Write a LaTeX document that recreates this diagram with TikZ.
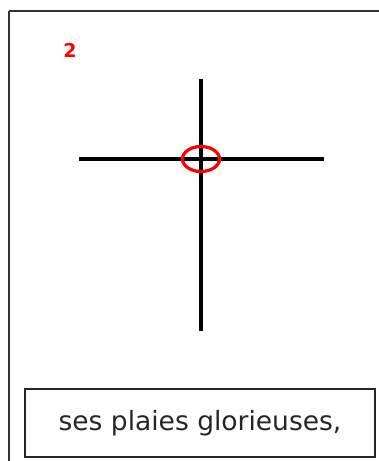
\documentclass[tikz,border=0pt]{standalone}
\usepackage{fontspec}
\setmainfont{DejaVu Sans}
\usetikzlibrary{shapes.geometric}
\begin{document}
\begin{tikzpicture}[x=1pt,y=-1pt,
  frame/.style={draw=black!80,line width=2pt},
  crossline/.style={draw=black,line width=4.5pt},
  ringstyle/.style={draw=red,line width=3.2pt,ellipse,minimum width=37pt,minimum height=25pt,inner sep=0pt},
  caption/.style={draw=black!85,line width=1.6pt,minimum width=350pt,minimum height=68pt,inner sep=0pt,font=\fontsize{26.5}{30}\selectfont,text=black!85}]
\useasboundingbox (0,0) rectangle (379,461);
\draw[frame] (9,11) -- (381,11);
\draw[frame] (9,11) -- (9,463);
\node[text=red,font=\bfseries\fontsize{19}{22}\selectfont] (num) at (70,50) {2};
\coordinate (vt) at (201,79);
\coordinate (vb) at (201,331);
\coordinate (hl) at (79,159);
\coordinate (hr) at (324,159);
\draw[crossline] (vt) -- (vb);
\draw[crossline] (hl) -- (hr);
\node[ringstyle] (ring) at (201,159) {};
\node[caption] (cap) at (200,423) {ses plaies glorieuses,};
\end{tikzpicture}
\end{document}
